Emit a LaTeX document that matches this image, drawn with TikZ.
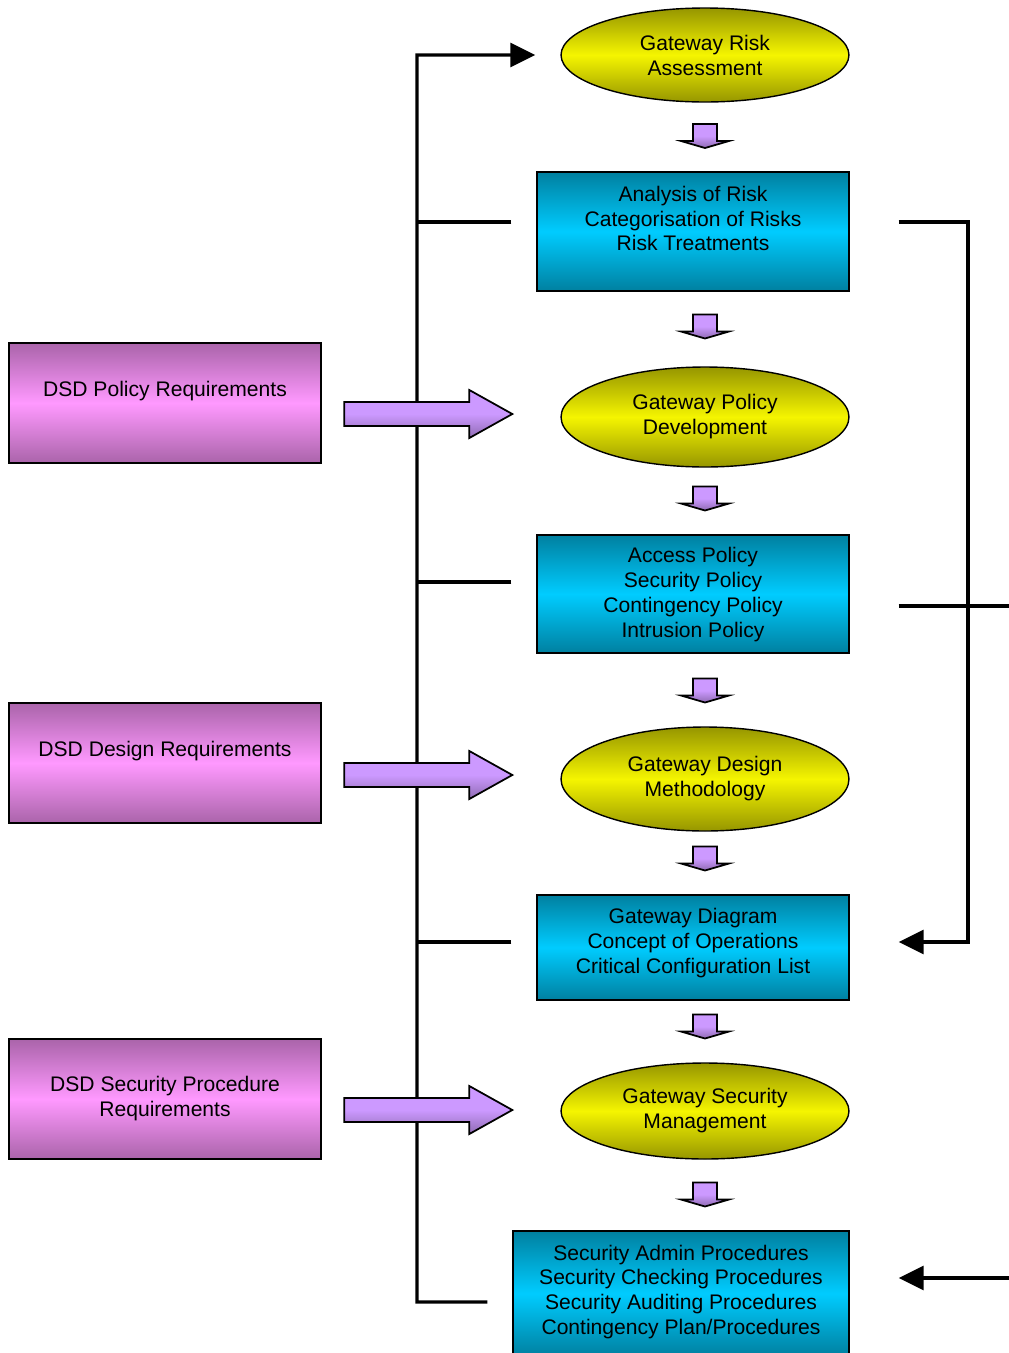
\documentclass[tikz,border=0pt]{standalone}
\usepackage{fontspec}
\setmainfont{Liberation Sans}
\usetikzlibrary{positioning,arrows.meta,calc,shapes.geometric}

\definecolor{yelmid}{RGB}{245,245,0}
\definecolor{yeledge}{RGB}{150,150,0}
\definecolor{cyanmid}{RGB}{0,204,255}
\definecolor{cyanedge}{RGB}{0,128,160}
\definecolor{pinkmid}{RGB}{255,153,255}
\definecolor{pinkedge}{RGB}{170,100,170}
\definecolor{blockfill}{RGB}{204,153,255}

\begin{document}
\begin{tikzpicture}[
			x=0.02cm,y=-0.02cm,
			stage/.style={
				ellipse,
				draw,
				line width=0.8pt,
				top color=yeledge,
				bottom color=yeledge,
				middle color=yelmid,
				minimum width=5.76cm,
				inner sep=0pt,
				align=center,
				font=\fontsize{12}{14.2}\selectfont
			},
			outbox/.style={
				draw,
				line width=0.8pt,
				top color=cyanedge,
				bottom color=cyanedge,
				middle color=cyanmid,
				minimum width=6.24cm
			},
			reqbox/.style={
				draw,
				line width=0.8pt,
				top color=pinkedge,
				bottom color=pinkedge,
				middle color=pinkmid,
				minimum width=6.24cm,
				minimum height=2.4cm
			},
			boxtext/.style={align=center,inner sep=0pt,font=\fontsize{12}{14.2}\selectfont},
			flowline/.style={line width=1.8pt},
			tip/.style={-{Triangle[length=0.5cm,width=0.48cm]}},
			downblock/.pic={
				\draw[line width=1pt,top color=blockfill,bottom color=blockfill!70!black,middle color=blockfill]
				(-12,-12) -- (12,-12) -- (12,5) -- (24,5) -- (0,12) -- (-24,5) -- (-12,5) -- cycle;
			},
			sideblock/.pic={
				\draw[line width=1pt,top color=blockfill,bottom color=blockfill!70!black,middle color=blockfill]
				(-168,-12) -- (-43,-12) -- (-43,-24) -- (0,0) -- (-43,24) -- (-43,12) -- (-168,12) -- cycle;
			}
			]
			\useasboundingbox (0,0) rectangle (1008,1353);
			
			% main column
			\node[stage,minimum height=1.88cm] (gra) at (705,55) {Gateway Risk\\ Assessment};
			
			\node[outbox,minimum height=2.38cm] (ana) at (693,231.5) {};
			\node[boxtext] (anatext) at ($(ana)+(0,-13)$)
			{Analysis of Risk\\ Categorisation of Risks\\ Risk Treatments};
			
			\node[stage,minimum height=2cm] (gpd) at (705,417) {Gateway Policy\\ Development};
			
			\node[outbox,minimum height=2.36cm] (pol) at (693,594) {};
			\node[boxtext] (poltext) at ($(pol)+(0,0.5)$)
			{Access Policy\\ Security Policy\\ Contingency Policy\\ Intrusion Policy};
			
			\node[stage,minimum height=2.08cm] (gdm) at (705,779) {Gateway Design\\ Methodology};
			
			\node[outbox,minimum height=2.1cm] (dia) at (693,947.5) {};
			\node[boxtext] (diatext) at ($(dia)+(0,-4.5)$)
			{Gateway Diagram\\ Concept of Operations\\ Critical Configuration List};
			
			\node[stage,minimum height=1.92cm] (gsm) at (705,1111) {Gateway Security\\ Management};
			
			\node[outbox,minimum width=6.72cm,minimum height=2.5cm] (proc) at (681,1293.5) {};
			\node[boxtext] (proctext) at ($(proc)+(0,-1.5)$)
			{Security Admin Procedures\\ Security Checking Procedures\\ Security Auditing Procedures\\ Contingency Plan/Procedures};
			
			% DSD inputs
			\node[reqbox] (polreq) at (165,403) {};
			\node[boxtext] (polreqtext) at ($(polreq)+(0,-12)$) {DSD Policy Requirements};
			
			\node[reqbox] (desreq) at (165,763) {};
			\node[boxtext] (desreqtext) at ($(desreq)+(0,-12)$) {DSD Design Requirements};
			
			\node[reqbox] (secreq) at (165,1099) {};
			\node[boxtext] (secreqtext) at (secreq) {DSD Security Procedure\\ Requirements};
			
			% left feedback spine
			\coordinate (sptop) at (417,55);
			\coordinate (spbot) at (417,1302);
			\draw[flowline,tip] ($(proc.west)+(-25,8.5)$) -- (spbot) -- (sptop) -- ($(gra.west)+(-25,0)$);
			
			\coordinate (tk1) at ($(ana.west)+(-25,-9.5)$);
			\coordinate (tk2) at ($(pol.west)+(-25,-12)$);
			\coordinate (tk3) at ($(dia.west)+(-25,-5.5)$);
			\draw[flowline] (tk1) -- (tk1 -| sptop);
			\draw[flowline] (tk2) -- (tk2 -| sptop);
			\draw[flowline] (tk3) -- (tk3 -| sptop);
			
			% right side
			\coordinate (rt1) at ($(ana.east)+(49,-9.5)$);
			\coordinate (rt2) at ($(pol.east)+(49,12)$);
			\coordinate (rt3) at ($(dia.east)+(49,-5.5)$);
			\coordinate (rt4) at ($(proc.east)+(49,-15.5)$);
			\coordinate (rbus) at (968,222);
			\draw[flowline,tip] (rt1) -- (rbus) |- (rt3);
			\draw[flowline] (rt2) -- ++(110,0);
			\draw[flowline,tip] ($(rt4)+(110,0)$) -- (rt4);
			
			% block arrows
			\foreach \y in {136,326.5,498.5,690.5,858.5,1026.5,1194.5}
			\pic at (705,\y) {downblock};
			
			\pic at ($(gpd.west)+(-48,-3)$) {sideblock};
			\pic at ($(gdm.west)+(-48,-4)$) {sideblock};
			\pic at ($(gsm.west)+(-48,-1)$) {sideblock};
			
		\end{tikzpicture}
\end{document}
